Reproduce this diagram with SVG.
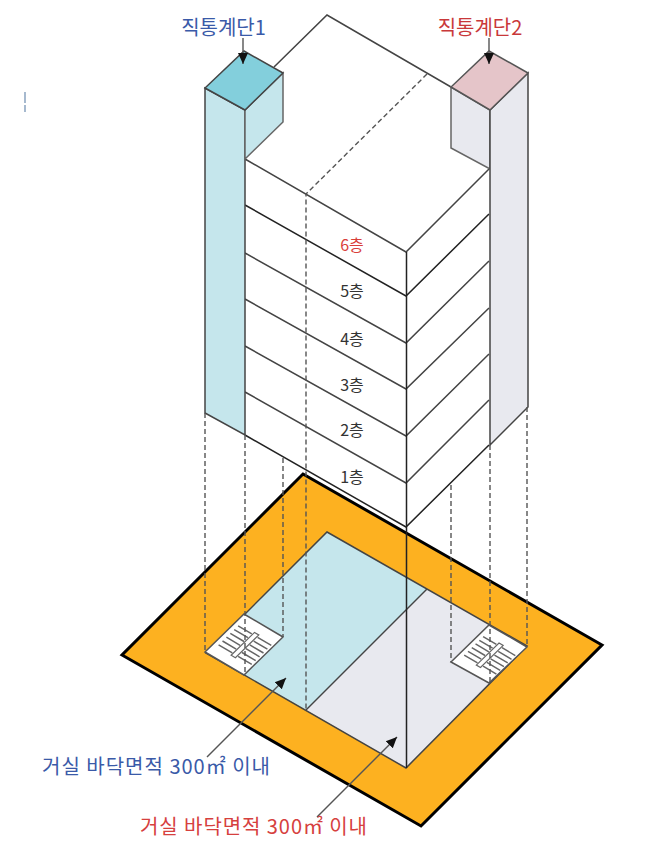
<svg xmlns="http://www.w3.org/2000/svg" width="648" height="865" viewBox="0 0 648 865">
<defs>
<marker id="ah" markerUnits="userSpaceOnUse" markerWidth="12" markerHeight="12" refX="11" refY="6" orient="auto"><path d="M0 1 L11 6 L0 11 Z" fill="#111"/></marker>
<g id="steps">
<path class="st" d="M13.600 -7.200L27.300 .9M17.500 -11L31.200 -2.900M21.400 -14.800L35.100 -6.700M25.300 -18.600L39 -10.500M29.200 -22.400L42.900 -14.300M33.100 -26.200L46.800 -18.100"/>
<path class="st" d="M33.100 4.300L46.800 12.400M37 .5L50.700 8.600M40.900 -3.300L54.600 4.800M44.800 -7.100L58.500 1M48.700 -10.900L62.400 -2.800M52.600 -14.700L66.300 -6.600"/>
<path d="M26.100 3.200L49.500 -19.600L53.800 -17.100L30.400 5.700Z" fill="#fff" stroke="#666" stroke-width="1.200"/>
</g>
</defs>
<style>
text{font-family:"Noto Sans CJK KR","Noto Sans",sans-serif}
.e{stroke:#444;stroke-width:1.5;fill:none}
.k{stroke:#222;stroke-width:1.5;fill:none}
.d{stroke:#555;stroke-width:1.4;fill:none;stroke-dasharray:5 3}
.lb{font-size:16px;fill:#333;text-anchor:middle}
.st{stroke:#666;stroke-width:1.5;fill:none}
.ar{stroke:#555;stroke-width:1.4;fill:none;marker-end:url(#ah)}
</style>
<rect width="648" height="865" fill="#fff"/>
<g id="tick" stroke="#6d8cb0" stroke-width="1.2"><path d="M25 92V103M25 105V112"/></g>
<g id="base">
<path d="M303 474L602 645L421 826L122 655Z" fill="#fdb120" stroke="#000" stroke-width="3" stroke-linejoin="miter"/>
<path d="M327 532L427 589L306 710L206 653Z" fill="#c5e6ec"/>
<path d="M427 589L527 646L406 768L306 710Z" fill="#e8e9ef"/>
<path class="e" d="M327 532L527 646L406 768L206 653Z"/>
<path class="e" d="M427 589L306 710"/>
</g>
<g id="stair-plan-1">
<path d="M205 652L244 614L283 637L244 675Z" fill="#fff" stroke="#555" stroke-width="1.500"/>
<use href="#steps" transform="translate(205 652)"/>
</g>
<g id="stair-plan-2">
<path d="M451 662L489 625L527 647L489 683Z" fill="#fff" stroke="#555" stroke-width="1.500"/>
<use href="#steps" transform="translate(451 662) scale(.97)"/>
</g>
<g id="building">
<path d="M327 15L489 108V445L406 527L245 435V159L274 67Z" fill="#fff"/>
<path class="e" d="M274 67L327 15L451 87"/>
<path class="e" d="M245 159L406 252L489 169"/>
<path class="k" d="M245 205L406 296L489 214"/>
<path class="e" d="M245 253L406 343L489 261"/>
<path class="e" d="M245 299L406 389L489 308"/>
<path class="e" d="M245 346L406 436L489 354"/>
<path class="e" d="M245 392L406 483L489 400"/>
<path class="k" d="M245 435L406 527L489 445"/>
</g>
<g id="stair-1">
<path d="M205 88L245 110V435L205 413Z" fill="#c5e6ec" stroke="#444" stroke-width="1.500"/>
<path d="M245 110L283 73V122L245 159Z" fill="#c5e6ec" stroke="#666" stroke-width="1.500"/>
<path d="M244 51L283 73L245 110L205 88Z" fill="#83cfdc" stroke="#444" stroke-width="1.500"/>
</g>
<g id="stair-2">
<path d="M451 87L490 110V169L451 148Z" fill="#e8e9ef" stroke="#666" stroke-width="1.500"/>
<path d="M490 110L528 73V407L490 445Z" fill="#e8e9ef" stroke="#444" stroke-width="1.500"/>
<path d="M489 51L528 73L490 110L451 87Z" fill="#e5c5c9" stroke="#555" stroke-width="1.500"/>
</g>
<g id="connectors">
<path class="d" d="M427 74L306 194V710"/>
<path class="d" d="M205 413V652M245 435V675M283 458V637M451 485V662M490 445V683M527 407V647"/>
<path class="k" d="M406.500 252V768"/>
<path class="ar" d="M243 38V64"/>
<path class="ar" d="M489 38V64"/>
<path class="ar" d="M207 757L286 678"/>
<path class="ar" d="M317 817L397 737"/>
</g>
<g id="labels">
<text x="223.500" y="35" font-size="20" fill="#3a5aa8" text-anchor="middle">직통계단1</text>
<text x="480" y="35" font-size="20" fill="#c9383a" text-anchor="middle">직통계단2</text>
<text x="352" y="251" class="lb" style="fill:#d9403a">6층</text>
<text x="352" y="297" class="lb">5층</text>
<text x="352" y="345" class="lb">4층</text>
<text x="352" y="391" class="lb">3층</text>
<text x="352" y="436" class="lb">2층</text>
<text x="352" y="483" class="lb">1층</text>
<text x="42" y="774" font-size="20" fill="#3a5aa8" textLength="228" lengthAdjust="spacing">거실 바닥면적 300㎡ 이내</text>
<text x="140" y="834" font-size="20" fill="#d6403e" textLength="227" lengthAdjust="spacing">거실 바닥면적 300㎡ 이내</text>
</g>
</svg>
